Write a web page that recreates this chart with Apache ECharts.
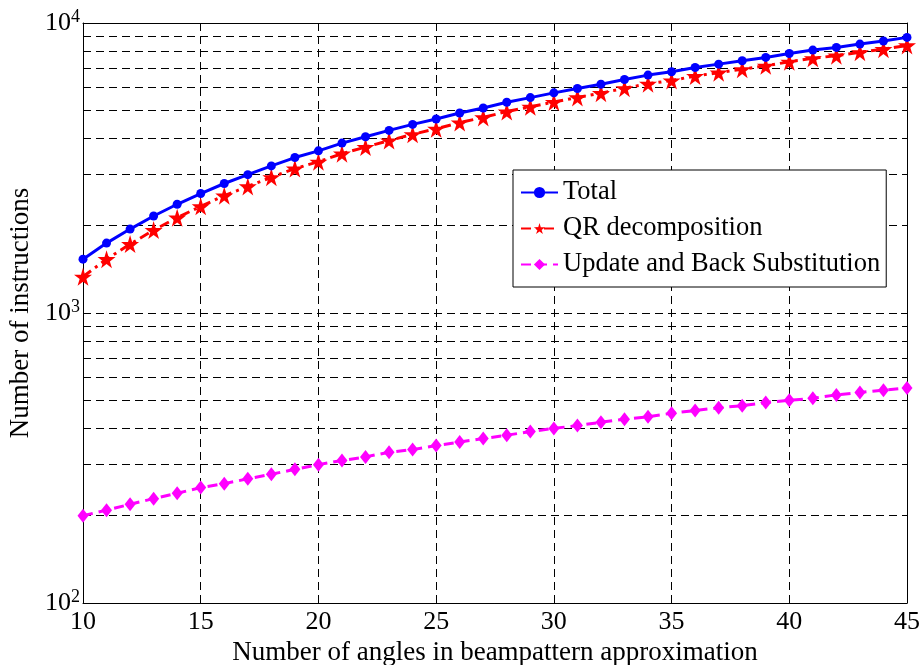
<!DOCTYPE html>
<html>
<head>
<meta charset="utf-8">
<script src="https://cdn.jsdelivr.net/npm/echarts@6/dist/echarts.min.js"></script>
<style>html,body{margin:0;padding:0;background:#fff;}#c{width:923px;height:665px;}</style>
</head>
<body>
<div id="c"></div>
<script>
const angles = [10,11,12,13,14,15,16,17,18,19,20,21,22,23,24,25,26,27,28,29,30,31,32,33,34,35,36,37,38,39,40,41,42,43,44,45];
const totalVals = [1533,1742,1947,2160,2371,2582,2796,3000,3216,3436,3624,3853,4053,4262,4471,4666,4894,5094,5330,5530,5742,5946,6150,6386,6612,6787,7022,7214,7408,7608,7852,8064,8238,8458,8667,8921];
const qrVals = [1333,1533,1728,1931,2132,2332,2538,2732,2938,3147,3324,3543,3734,3931,4133,4317,4535,4725,4951,5140,5342,5537,5730,5956,6173,6336,6561,6743,6929,7117,7352,7556,7716,7926,8125,8370];
const updateVals = [200,209,219,229,239,250,258,268,278,289,300,310,319,331,338,349,359,369,379,390,400,409,420,430,439,451,461,471,479,491,500,508,522,532,542,551];
const minorGridVals = [200,300,400,500,600,700,800,900,2000,3000,4000,5000,6000,7000,8000,9000];
const seriesNames = ['Total','QR decomposition','Update and Back Substitution'];

const FONT = 'Liberation Serif';
const starPath = 'path://M50,0 L61,35 L98,35 L68,57 L79,91 L50,70 L21,91 L32,57 L2,35 L39,35 Z';
const gridDash = [8,5];

const chart = echarts.init(document.getElementById('c'), null, {renderer:'canvas'});
const pairs = a => angles.map((x,i)=>[x,a[i]]);
const yLabelFmt = v => {
  const e = Math.round(Math.log10(v));
  return '{b|10}{s|' + e + '}';
};
chart.setOption({
  animation:false,
  backgroundColor:'#fff',
  grid:{left:83,right:16,top:23,bottom:62,containLabel:false,outerBoundsMode:'none'},
  legend:{
    orient:'vertical', left:513, top:170,
    data:seriesNames,
    itemWidth:37, itemHeight:14, itemGap:9,
    padding:[9,6,9,7],
    borderColor:'#000', borderWidth:1, backgroundColor:'#fff',
    textStyle:{fontFamily:FONT, fontSize:26.5, color:'#000'}
  },
  xAxis:[{
    type:'value', min:10, max:45, interval:5,
    name:'Number of angles in beampattern approximation',
    nameLocation:'middle', nameGap:30,
    nameTextStyle:{fontFamily:FONT, fontSize:27, color:'#000'},
    axisLine:{show:true, lineStyle:{color:'#000', width:1}},
    axisTick:{show:true, inside:true, length:6, lineStyle:{color:'#000'}},
    axisLabel:{fontFamily:FONT, fontSize:26, color:'#000', margin:6},
    splitLine:{show:true, lineStyle:{color:'#000', type:gridDash, width:1}}
  },{
    type:'value', min:10, max:45, interval:5, position:'top',
    axisLine:{show:true, lineStyle:{color:'#000', width:1}},
    axisTick:{show:true, inside:true, length:6, lineStyle:{color:'#000'}},
    axisLabel:{show:false}, splitLine:{show:false}
  }],
  yAxis:[{
    type:'log', logBase:10, min:100, max:10000,
    name:'Number of instructions',
    nameLocation:'middle', nameGap:46,
    nameTextStyle:{fontFamily:FONT, fontSize:27, color:'#000'},
    axisLine:{show:true, lineStyle:{color:'#000', width:1}},
    axisTick:{show:true, inside:true, length:6, lineStyle:{color:'#000'}},
    axisLabel:{formatter:yLabelFmt, margin:3,
      rich:{b:{fontFamily:FONT, fontSize:26, color:'#000'},
            s:{fontFamily:FONT, fontSize:18, color:'#000', padding:[0,0,12,0]}}},
    splitLine:{show:true, lineStyle:{color:'#000', type:gridDash, width:1}}
  },{
    type:'log', logBase:10, min:100, max:10000, position:'right',
    axisLine:{show:true, lineStyle:{color:'#000', width:1}},
    axisTick:{show:true, inside:true, length:6, lineStyle:{color:'#000'}},
    axisLabel:{show:false}, splitLine:{show:false}
  }],
  series:[
    {
      name:seriesNames[0], type:'line', data:pairs(totalVals),
      symbol:'circle', symbolSize:9, z:5,
      lineStyle:{color:'#0000ff', width:3},
      itemStyle:{color:'#0000ff'},
      markLine:{
        silent:true, symbol:['none','none'], label:{show:false},
        lineStyle:{color:'#000', type:gridDash, width:1},
        data:minorGridVals.map(v=>({yAxis:v})),
        z:1
      }
    },
    {
      name:seriesNames[1], type:'line', data:pairs(qrVals),
      symbol:starPath, symbolSize:18, z:4,
      lineStyle:{color:'#ff0000', width:3, type:[10,5,3,5]},
      itemStyle:{color:'#ff0000'}
    },
    {
      name:seriesNames[2], type:'line', data:pairs(updateVals),
      symbol:'diamond', symbolSize:[11,14], z:4,
      lineStyle:{color:'#ff00ff', width:3, type:[10,6]},
      itemStyle:{color:'#ff00ff'}
    }
  ]
});
</script>
</body>
</html>
